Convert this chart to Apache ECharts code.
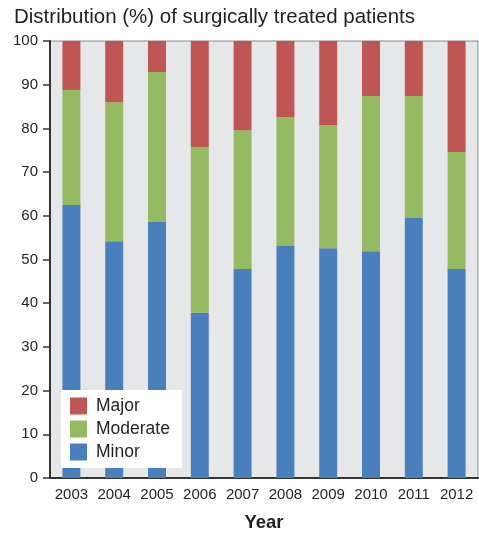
<!DOCTYPE html>
<html>
<head>
<meta charset="utf-8">
<script src="https://cdn.jsdelivr.net/npm/echarts@6/dist/echarts.min.js"></script>
<style>
  html, body { margin: 0; padding: 0; background: #fff; }
  #chart { width: 479px; height: 533px; }
</style>
</head>
<body>
<div id="chart"></div>
<script>
// 年份
const years = ['2003', '2004', '2005', '2006', '2007', '2008', '2009', '2010', '2011', '2012']
// 各类占比 (%)
const minor = [62.5, 54.2, 58.6, 37.8, 47.8, 53.1, 52.6, 51.9, 59.5, 47.8]
const moderate = [26.3, 31.8, 34.3, 37.9, 31.8, 29.5, 28.2, 35.5, 27.9, 26.8]
const major = [11.2, 14.0, 7.1, 24.3, 20.4, 17.4, 19.2, 12.6, 12.6, 25.4]

const chart = echarts.init(document.getElementById('chart'))

const textColor = '#231f20'

const option = {
  animation: false,
  title: {
    text: 'Distribution (%) of surgically treated patients',
    left: 9,
    top: 2,
    textStyle: {
      fontFamily: 'Liberation Sans',
      fontSize: 20.5,
      fontWeight: 'normal',
      color: textColor
    }
  },
  legend: {
    data: ['Major', 'Moderate', 'Minor'],
    orient: 'vertical',
    left: 61,
    top: 390,
    backgroundColor: '#ffffff',
    padding: [7, 12, 7, 9],
    itemWidth: 17,
    itemHeight: 17,
    itemGap: 5,
    icon: 'rect',
    textStyle: {
      fontFamily: 'Liberation Sans',
      fontSize: 17.5,
      color: textColor,
      padding: [0, 0, 0, 4]
    }
  },
  grid: {
    left: 50,
    right: 1,
    top: 41,
    bottom: 55,
    outerBoundsMode: 'none',
    show: true,
    backgroundColor: '#e6e7e9',
    borderColor: '#8a8a8c',
    borderWidth: 1
  },
  xAxis: {
    type: 'category',
    data: years,
    name: 'Year',
    nameLocation: 'middle',
    nameGap: 35,
    nameTextStyle: {
      fontFamily: 'Liberation Sans',
      fontSize: 18.5,
      fontWeight: 'bold',
      color: textColor
    },
    axisLine: { lineStyle: { color: '#333333', width: 2 } },
    axisTick: { show: false },
    axisLabel: {
      interval: 0,
      fontFamily: 'Liberation Sans',
      fontSize: 15,
      color: textColor,
      margin: 9
    }
  },
  yAxis: {
    type: 'value',
    min: 0,
    max: 100,
    interval: 10,
    axisLine: { show: true, lineStyle: { color: '#333333', width: 2 } },
    axisTick: { show: true, length: 7, lineStyle: { color: '#333333', width: 1.5 } },
    splitLine: { show: false },
    axisLabel: {
      fontFamily: 'Liberation Sans',
      fontSize: 15,
      color: textColor,
      margin: 12
    }
  },
  series: [
    {
      name: 'Minor',
      type: 'bar',
      stack: 'total',
      barWidth: '42%',
      itemStyle: { color: '#4a7fbd' },
      data: minor
    },
    {
      name: 'Moderate',
      type: 'bar',
      stack: 'total',
      itemStyle: { color: '#94ba62' },
      data: moderate
    },
    {
      name: 'Major',
      type: 'bar',
      stack: 'total',
      itemStyle: { color: '#c05654' },
      data: major
    }
  ]
}

chart.setOption(option)
</script>
</body>
</html>
